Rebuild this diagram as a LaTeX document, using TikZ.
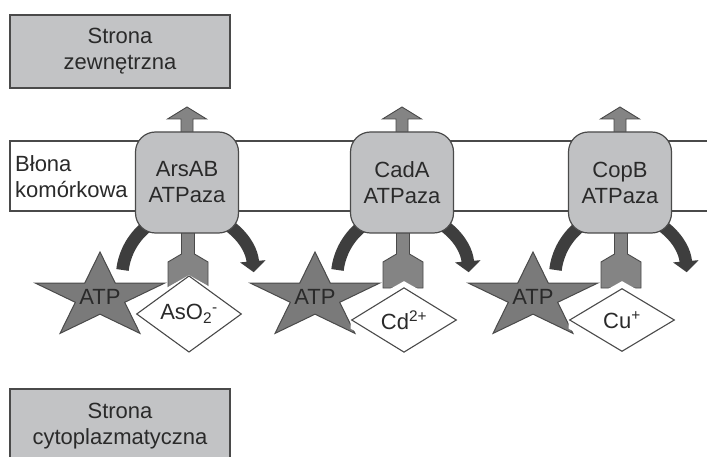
\documentclass[tikz,border=0pt]{standalone}
\usepackage{fontspec}
\setmainfont{Liberation Sans}
\usetikzlibrary{shapes.geometric,arrows.meta}
\definecolor{boxgray}{HTML}{C2C3C5}
\definecolor{protgray}{HTML}{C0C1C3}
\definecolor{bord}{HTML}{4A4A4A}
\definecolor{stargray}{HTML}{7A7A7A}
\definecolor{stemgray}{HTML}{848484}
\definecolor{arcgray}{HTML}{3E3E3E}
\definecolor{txt}{HTML}{2A2A2A}
\newcommand\myStar[2]{%
  \filldraw[starstyle] (#1,#2-45) \foreach \a/\r in {126/0.382,162/1,198/0.382,234/1,270/0.382,306/1,342/0.382,18/1,54/0.382} { -- ({#1+68*\r*cos(\a)},{#2-45*\r*sin(\a)}) } -- cycle;}
\begin{document}
\begin{tikzpicture}[x=1pt,y=-1pt,
  every node/.style={font=\fontsize{22}{26}\selectfont, text=txt},
  sidebox/.style={draw=bord, line width=1.2pt, fill=boxgray, minimum width=220pt, minimum height=73pt, inner sep=0pt, align=center},
  protein/.style={draw=bord, line width=1.2pt, fill=protgray, rounded corners=20pt, minimum width=103pt, minimum height=101pt, inner sep=0pt, align=center},
  starstyle/.style={fill=stargray, draw=bord, line width=1pt, line join=miter},
  stemstyle/.style={fill=stemgray, draw=bord, line width=0.9pt},
  arcstyle/.style={draw=arcgray, line width=12.5pt, -{Triangle[width=25pt,length=11pt]}},
  halo/.style={diamond, draw=white, fill=white, line width=20pt, miter limit=1.5, minimum width=105pt, minimum height=63pt, inner sep=0pt},
  ionbox/.style={diamond, draw=bord, fill=white, line width=1.1pt, minimum width=105pt, minimum height=63pt, inner sep=0pt}
]
\useasboundingbox (0,0) rectangle (707,457);
\fill[white] (0,0) rectangle (707,457);
% outer side
\node[sidebox] (outer) at (120,51.5) {Strona\\zewnętrzna};
% cytoplasm side
\node[sidebox, minimum height=74pt] (inner) at (120,426) {Strona\\cytoplazmatyczna};
% membrane
\coordinate (mtl) at (707,141);
\coordinate (mbl) at (707,211);
\draw[bord, line width=1.1pt, fill=white] (mtl) -- (10,141) -- (10,211) -- (mbl);
\node[anchor=west, align=left, inner sep=0pt] (membr) at (15,177) {Błona\\komórkowa};
% transporters
\foreach \X/\nm/\prot/\ion/\dy in {187/ars/ArsAB/{AsO\textsubscript{2}\textsuperscript{-}}/314,
                                   402/cad/CadA/{Cd\textsuperscript{2+}}/320,
                                   620/cop/CopB/{Cu\textsuperscript{+}}/320}{
  % curved arrow
  \draw[arcstyle] ({\X+1+66*cos(187)},{278+66*sin(187)}) arc[start angle=187,end angle=355,radius=66];
  % up arrow
  \filldraw[stemstyle] (\X-6,140) -- (\X-6,119) -- (\X-19.5,119) -- (\X,107) -- (\X+19.5,119) -- (\X+6,119) -- (\X+6,140);
  % receptor fork
  \filldraw[stemstyle] (\X+1-6.5,225) -- (\X+1-6.5,254) -- (\X+1-20,262) -- (\X+1-20,288) -- (\X+1+20,288) -- (\X+1+20,262) -- (\X+1+6.5,254) -- (\X+1+6.5,225) -- cycle;
  % protein
  \node[protein] (box-\nm) at (\X,182.5) {\prot\\ATPaza};
  % ATP star
  \myStar{\X-87}{297}
  \node (atp-\nm) at (\X-87,296.5) {ATP};
  % ion
  \node[halo] (halo-\nm) at (\X+2,\dy) {};
  \node[ionbox] (ion-\nm) at (\X+2,\dy) {\ion};
}
\end{tikzpicture}
\end{document}
